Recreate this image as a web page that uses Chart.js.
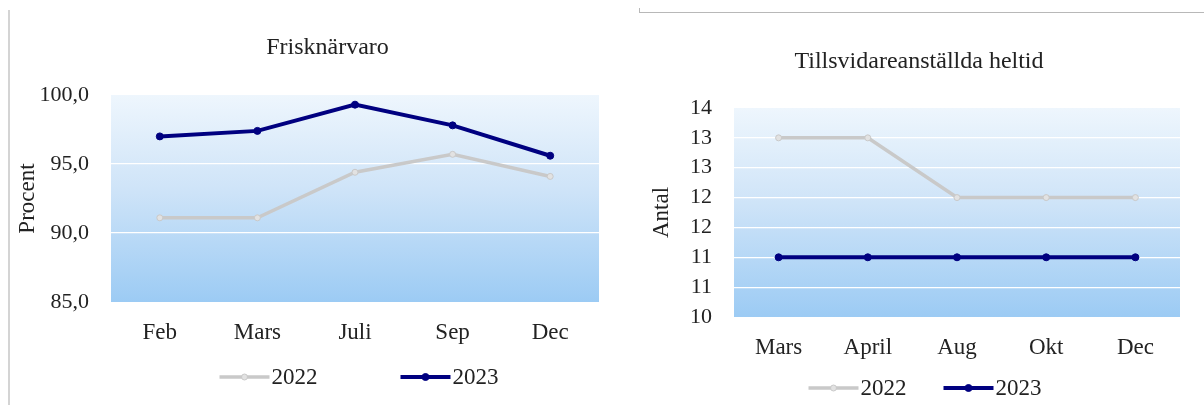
<!DOCTYPE html>
<html><head><meta charset="utf-8">
<script src="https://cdn.jsdelivr.net/npm/chart.js@4.4.1/dist/chart.umd.min.js"></script>
<style>
html,body{margin:0;padding:0;background:#fff;}
body{width:1204px;height:405px;position:relative;overflow:hidden;}
.vline{position:absolute;left:8px;top:10px;width:2px;height:395px;background:#d4d4d4;}
.hline{position:absolute;left:639px;top:12px;width:565px;height:1px;background:#b8b8b8;}
.hline2{position:absolute;left:639px;top:8px;width:1px;height:5px;background:#b8b8b8;}
#c1{position:absolute;left:0;top:0;}
#c2{position:absolute;left:620px;top:0;}
</style></head>
<body>
<div class="vline"></div><div class="hline"></div><div class="hline2"></div>
<canvas id="c1" width="620" height="405"></canvas>
<canvas id="c2" width="584" height="405"></canvas>
<script>
// ---- Data ----
const friskCategories = ['Feb', 'Mars', 'Juli', 'Sep', 'Dec'];
const frisk2022 = [91.1, 91.1, 94.4, 95.7, 94.1];
const frisk2023 = [97.0, 97.4, 99.3, 97.8, 95.6];
const friskTickValues = [85, 90, 95, 100];
const friskTickLabels = ['85,0', '90,0', '95,0', '100,0'];

const tillsCategories = ['Mars', 'April', 'Aug', 'Okt', 'Dec'];
const tills2022 = [13, 13, 12, 12, 12];
const tills2023 = [11, 11, 11, 11, 11];
const tillsTickValues = [10, 10.5, 11, 11.5, 12, 12.5, 13, 13.5];
const tillsTickLabels = ['10', '11', '11', '12', '12', '13', '13', '14'];

const seriesLabels = ['2022', '2023'];

// ---- Styles ----
const FAMILY = "'Liberation Serif', 'Times New Roman', serif";
const TEXT = '#222222';
const C2022 = '#c9c9c9';
const C2023 = '#000080';

const plotBackground = {
  id: 'plotBackground',
  beforeDraw(chart) {
    const {ctx, chartArea: a} = chart;
    const g = ctx.createLinearGradient(0, a.top, 0, a.bottom);
    g.addColorStop(0, '#eef6fd');
    g.addColorStop(0.45, '#cfe4f8');
    g.addColorStop(1, '#9ccbf4');
    ctx.save();
    ctx.fillStyle = g;
    ctx.fillRect(a.left, a.top, a.right - a.left, a.bottom - a.top);
    ctx.restore();
  }
};

const shiftTitle = {
  id: 'shiftTitle',
  afterLayout(chart, args, opts) {
    const t = chart.titleBlock;
    if (t && opts.dx) { t.left += opts.dx; t.right += opts.dx; }
  }
};

const lineLegend = {
  id: 'lineLegend',
  afterDraw(chart, args, opts) {
    const {ctx} = chart;
    ctx.save();
    ctx.font = opts.font;
    const items = chart.data.datasets.map(ds => ({ds, w: opts.lineLength + opts.textGap + ctx.measureText(ds.label).width}));
    const total = items.reduce((s, it) => s + it.w, 0) + opts.itemGap * (items.length - 1);
    let x = opts.centerX - total / 2;
    const y = opts.y;
    items.forEach(({ds, w}) => {
      ctx.strokeStyle = ds.borderColor;
      ctx.lineWidth = ds.borderWidth;
      ctx.beginPath(); ctx.moveTo(x, y); ctx.lineTo(x + opts.lineLength, y); ctx.stroke();
      ctx.beginPath(); ctx.arc(x + opts.lineLength / 2, y, ds.pointRadius, 0, Math.PI * 2);
      ctx.fillStyle = ds.pointBackgroundColor; ctx.fill();
      ctx.lineWidth = 1; ctx.strokeStyle = ds.pointBorderColor; ctx.stroke();
      ctx.fillStyle = opts.color; ctx.textBaseline = 'middle'; ctx.textAlign = 'left';
      ctx.fillText(ds.label, x + opts.lineLength + opts.textGap, y + 1);
      x += w + opts.itemGap;
    });
    ctx.restore();
  }
};

function datasets(d22, d23) {
  return [
    {label: seriesLabels[0], data: d22, borderColor: C2022, backgroundColor: C2022, borderWidth: 3.5,
     pointRadius: 3, pointBackgroundColor: '#e2e2e2', pointBorderColor: C2022, pointBorderWidth: 1, tension: 0},
    {label: seriesLabels[1], data: d23, borderColor: C2023, backgroundColor: C2023, borderWidth: 4,
     pointRadius: 3.5, pointBackgroundColor: C2023, pointBorderColor: C2023, pointBorderWidth: 1, tension: 0}
  ];
}

function makeChart(id, p) {
  const font = {family: FAMILY, size: 22, weight: 'normal'};
  return new Chart(document.getElementById(id), {
    type: 'line',
    data: {labels: p.categories, datasets: datasets(p.d22, p.d23)},
    plugins: [plotBackground, shiftTitle, lineLegend],
    options: {
      responsive: false, animation: false, devicePixelRatio: 1,
      layout: {padding: p.padding},
      plugins: {
        legend: {display: false},
        tooltip: {enabled: false},
        title: {display: true, text: p.title, color: TEXT, font: {family: FAMILY, size: 24, weight: 'normal'},
                padding: p.titlePadding},
        shiftTitle: {dx: p.titleDx},
        lineLegend: {font: "23px " + FAMILY, color: TEXT, lineLength: 50, textGap: 2,
                     itemGap: p.legendGap, centerX: p.legendX, y: p.legendY}
      },
      scales: {
        x: {
          offset: true,
          grid: {display: false, drawTicks: false},
          border: {display: false},
          ticks: {color: TEXT, font: {family: FAMILY, size: 23}, padding: 17, maxRotation: 0, autoSkip: false},
          afterFit: s => { s.height = 45; }
        },
        y: {
          min: p.tickValues[0], max: p.tickValues[p.tickValues.length - 1],
          afterBuildTicks: s => { s.ticks = p.tickValues.map(v => ({value: v})); },
          grid: {
            drawTicks: false, lineWidth: 1.2,
            color: c => (c.tick && (c.tick.value === p.tickValues[0] || c.tick.value === p.tickValues[p.tickValues.length - 1])) ? 'rgba(0,0,0,0)' : '#ffffff'
          },
          border: {display: false},
          ticks: {color: TEXT, font: font, padding: 22,
                  callback: v => p.tickLabels[p.tickValues.indexOf(v)]},
          title: {display: true, text: p.yTitle, color: TEXT, font: {family: FAMILY, size: 23, weight: 'normal'}, padding: {top: p.yTitlePad, bottom: 0}},
          afterFit: s => { s.width = p.yWidth; }
        }
      }
    }
  });
}

makeChart('c1', {
  categories: friskCategories, d22: frisk2022, d23: frisk2023,
  tickValues: friskTickValues, tickLabels: friskTickLabels,
  title: 'Frisknärvaro', yTitle: 'Procent',
  padding: {left: 10, right: 21, top: 0, bottom: 58},
  titlePadding: {top: 33.6, bottom: 32.6}, titleDx: 23,
  yWidth: 101, yTitlePad: 4,
  legendGap: 83, legendX: 359, legendY: 377
});

makeChart('c2', {
  categories: tillsCategories, d22: tills2022, d23: tills2023,
  tickValues: tillsTickValues, tickLabels: tillsTickLabels,
  title: 'Tillsvidareanställda heltid', yTitle: 'Antal',
  padding: {left: 20, right: 24, top: 0, bottom: 43},
  titlePadding: {top: 47.6, bottom: 31.6}, titleDx: 9,
  yWidth: 94, yTitlePad: 8,
  legendGap: 37, legendX: 305, legendY: 388
});
</script>
</body></html>
